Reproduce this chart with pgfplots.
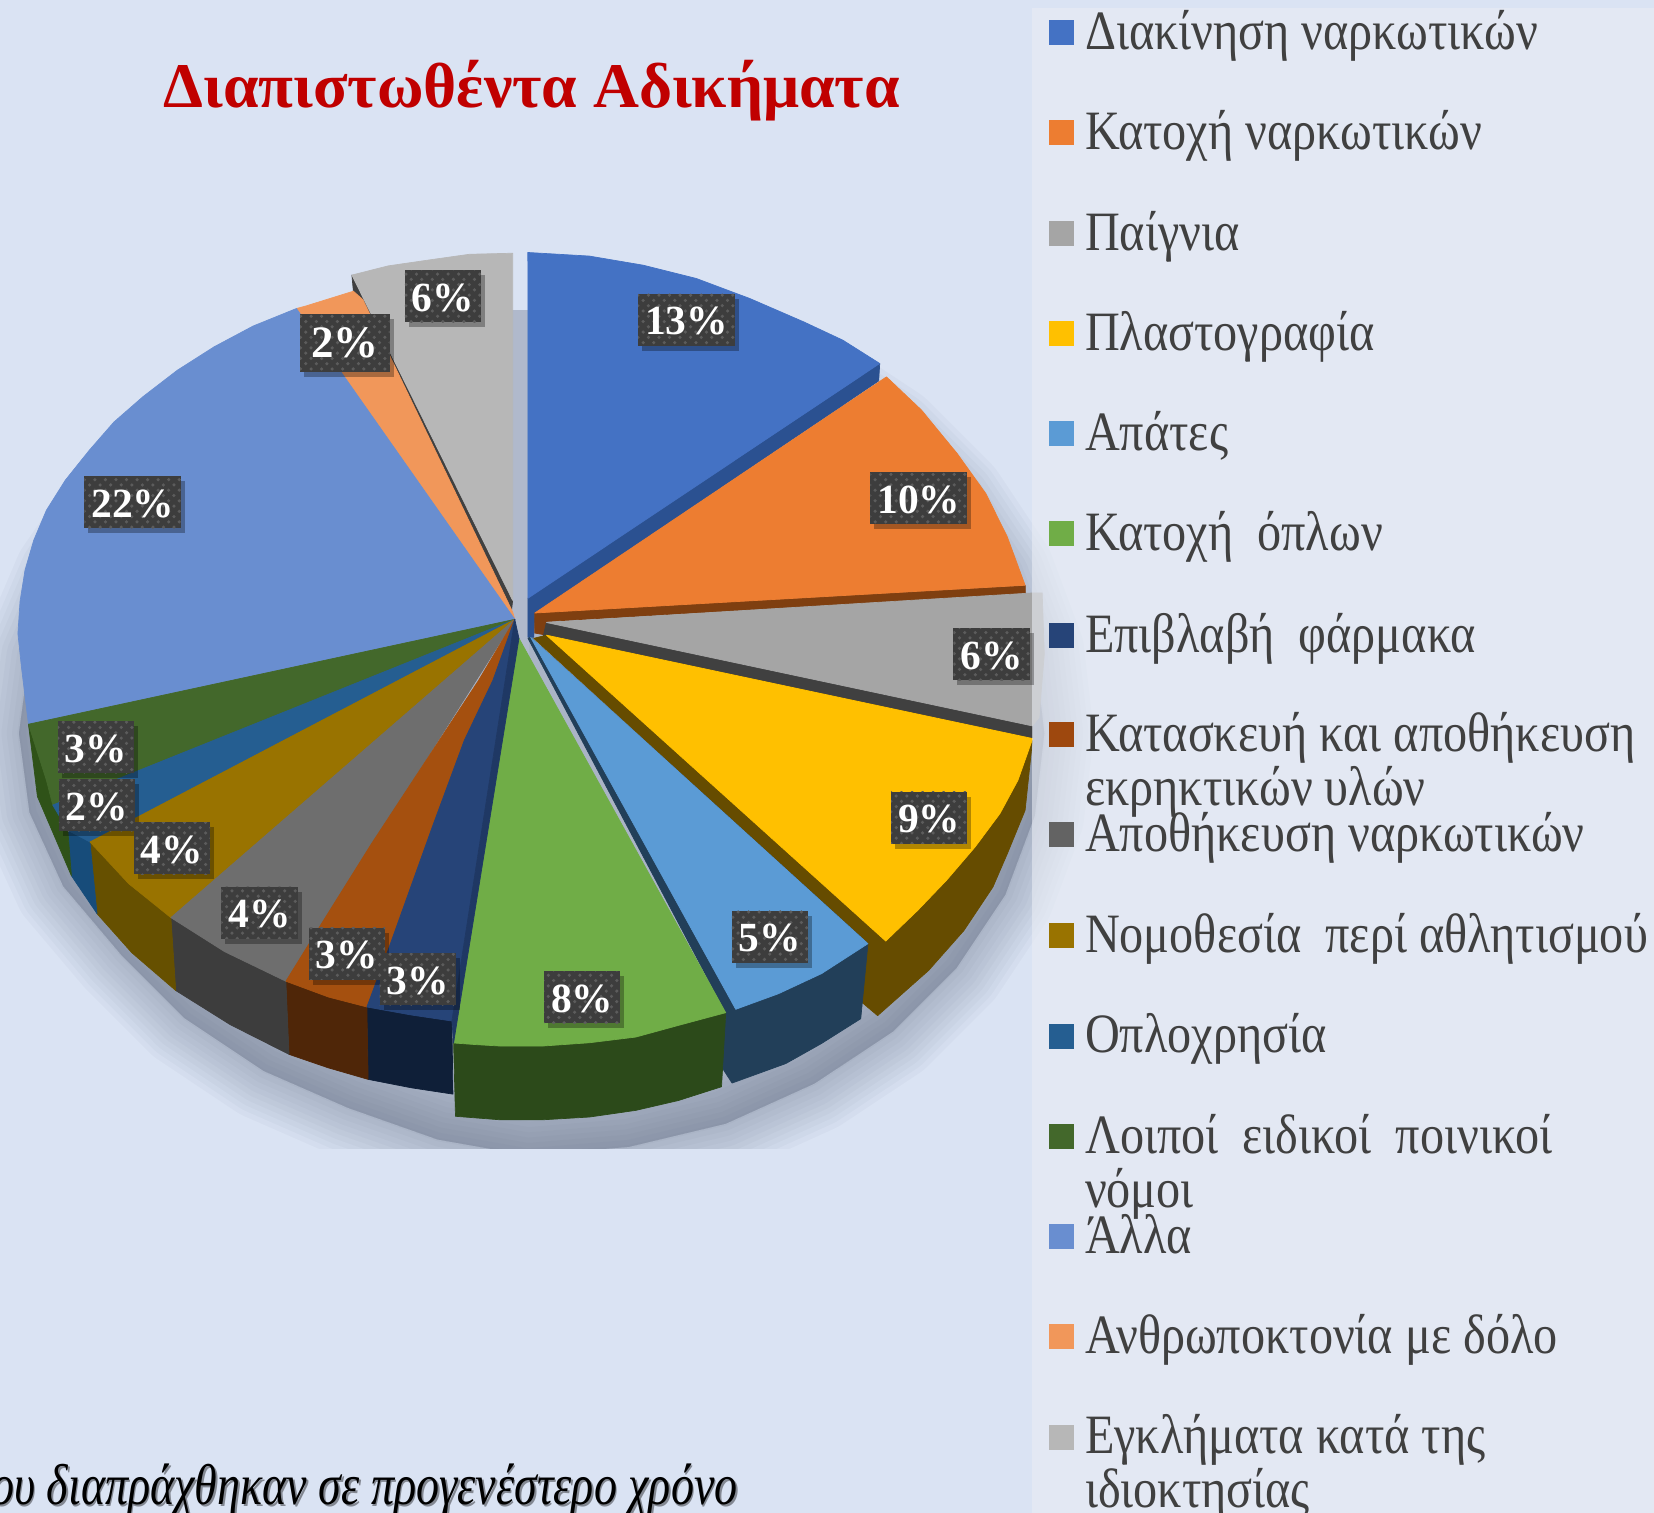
\documentclass[border=0pt]{standalone}
\usepackage{fontspec}
\setmainfont{Liberation Serif}
\newfontfamily\legfont[FakeStretch=0.868]{Liberation Serif}
\newfontfamily\notefont[FakeStretch=0.8]{Liberation Serif}
\usepackage{pgfplots}
\pgfplotsset{compat=1.18}
\usetikzlibrary{shadows,patterns}

\definecolor{bgc}{HTML}{DAE3F3}
\definecolor{panelc}{HTML}{E9ECF3}
\definecolor{shc}{HTML}{5F6A80}
\definecolor{gapc}{HTML}{B0B9CC}
\definecolor{txtc}{HTML}{404040}
\definecolor{boxc}{HTML}{3D3D3D}
\definecolor{boxd}{HTML}{5C5C5C}
% slice colours are named by their hex value
\newcommand\hexc[1]{\definecolor{#1}{HTML}{#1}}
\hexc{B7B7B7}\hexc{F1975A}\hexc{698ED0}\hexc{2B5191}\hexc{4472C4}\hexc{7F3F10}\hexc{ED7D31}
\hexc{404040}\hexc{A5A5A5}\hexc{664C00}\hexc{FFC000}\hexc{223F59}\hexc{5B9BD5}\hexc{2C4A1A}
\hexc{70AD47}\hexc{0F1F38}\hexc{4F2608}\hexc{3D3D3D}\hexc{665000}\hexc{174C7A}\hexc{2F5218}
\hexc{43682B}\hexc{255E91}\hexc{997300}\hexc{6E6E6E}\hexc{A5500F}\hexc{264478}\hexc{1F3864}
\hexc{9E480E}\hexc{636363}

% one filled polygon of the pie, in picture units
\newcommand\poly[2]{\addplot[forget plot, mark=none, fill=#1, draw=#1, line width=0.2pt, line join=round] coordinates {#2} --cycle;}
% legend entry: colour, y of the square, text
\newcommand\leg[3]{%
  \addplot[forget plot, only marks, mark=square*, mark size=3.35pt, color=#1] coordinates {(1006,#2)};
  \node[anchor=base west, inner sep=0pt, text=txtc, font=\fontsize{15.8}{18}\legfont] at (axis cs:1028,#2+16) {#3};}
\newcommand\legx[2]{\node[anchor=base west, inner sep=0pt, text=txtc, font=\fontsize{15.8}{18}\legfont] at (axis cs:1028,#1) {#2};}

\pgfplotstableread{
x y v
651 303 13
871 472 10
940 620 6
881 775 9
730 888 5
552 945 8
420 281 6
126 476 22
91 708 3
92 763 2
163 804 4
246 865 4
329 904 3
396 928 3
}\labels

\pgfplotsset{pct/.style={
  forget plot, mark=none, draw=none, point meta=explicit,
  nodes near coords={\pgfmathprintnumber[precision=0]{\pgfplotspointmeta}\%},
  nodes near coords align={center},
  nodes near coords style={anchor=center, fill=boxc, text=white,
    font=\fontsize{#1}{#1}\selectfont\bfseries,
    inner xsep=0.07cm, inner ysep=0pt, minimum height=0.52cm, text height=0.3cm, text depth=0pt,
    drop shadow={shadow xshift=0.04cm, shadow yshift=-0.05cm, opacity=0.3, fill=black},
    postaction={pattern=crosshatch dots, pattern color=boxd}},
}}

\begin{document}
\begin{tikzpicture}
\clip (0,0) rectangle (16.54,15.13);
\fill[bgc] (0,0) rectangle (16.54,15.13);
\begin{axis}[
  at={(0,0)}, anchor=south west,
  scale only axis, width=16.54cm, height=15.13cm,
  xmin=0, xmax=1568, ymin=0, ymax=1434, y dir=reverse,
  hide axis, clip=false,
  /pgf/number format/assume math mode=true,
]
% soft shadow under the pie
\def\shadowpts{(990,695)(981,617)(953,542)(907,473)(846,412)(772,363)(688,345)(596,345)(500,345)(404,345)(312,345)(228,375)(160,420)(105,480)(60,545)(28,620)(18,695)(28,770)(60,840)(115,905)(175,965)(250,1015)(330,1050)(415,1080)(500,1095)(596,1087)(688,1065)(772,1027)(846,978)(907,917)(953,848)(981,773)}
\pgfplotsinvokeforeach{28,25,22,19,16,13,10,7,4,1}{
  \addplot[forget plot, mark=none, fill=shc, draw=shc, opacity=0.045, line width=#1pt, line join=round] coordinates {\shadowpts} --cycle;
}
\addplot[forget plot, mark=none, draw=none, fill=bgc] coordinates {(-5,1089)(978,1089)(978,1440)(-5,1440)} --cycle;
% shadow seen through the gap between the first and the last slice
\poly{gapc}{(485,294)(501,294)(501,640)(485,640)}

% Εγκλήματα κατά της ιδιοκτησίας
\poly{404040}{(333.6,260.7)(335,276)(485,578)(486,569)}
\poly{B7B7B7}{(486,240)(445,241)(406,246.5)(368,252)(333.6,260.7)(486,569)}
% Ανθρωποκτονία
\poly{F1975A}{(281,292.4)(290,290)(335,276)(344,284)(486,580)(488,587)}
% Άλλα
\poly{698ED0}{(488,587)(281,292.4)(240,309)(203,328.7)(168,351)(135.5,376)(108,400)(84.7,426.7)(62,455)(44,483.6)(32,512)(23.7,540.5)(19,570)(17,600.5)(20.3,632)(27,686.4)}

% Διακίνηση
\poly{2B5191}{(500.5,567)(834,344.5)(833,361)(507,581)(506,604)(500.5,604)}
\poly{4472C4}{(500.4,239.3)(558.7,242.7)(609.5,251.3)(660.3,264)(711,283)(761.8,305)(799,322.4)(834,344.5)(500.5,567)}
% Κατοχή
\poly{7F3F10}{(507,581)(972,555)(972,563)(518,589)(518,602)(507,600)}
\poly{ED7D31}{(507,581)(840.4,357.2)(873.6,388.7)(907.5,430)(934.6,467.8)(954.9,508.8)(971.8,554.7)}
% Παίγνια
\poly{404040}{(518,590)(978.6,688)(978.6,700)(515,603)}
\poly{A5A5A5}{(518,590)(978.6,562)(988,562)(990,620)(985,680)(978.6,688)}
% Πλαστογραφία
\poly{664C00}{(506,605)(518,602)(979,700)(971.8,768)(955,809)(941.3,840.7)(914,881.7)(880.4,919.7)(832,962.6)(816.7,949.7)(822.8,894.4)}
\poly{FFC000}{(518,602)(979,700)(965,739.5)(948,771)(924.4,802.7)(897.3,834.3)(870,862.8)(839.7,891.9)}
% Απάτες
\poly{223F59}{(500.5,605)(503,604)(822.8,894.4)(816,965.5)(778.8,989)(745,1008)(694,1026.5)(684.6,1012)(688,959.8)}
\poly{5B9BD5}{(503,604)(822.8,894.4)(778.8,922.8)(738,941.8)(697.5,956.6)}
% Κατοχή όπλων
\poly{2C4A1A}{(688,959.8)(684,1030)(643.3,1043)(602.7,1052.4)(558.7,1058.7)(514.6,1061.3)(474,1061.3)(431.8,1058)(430,988.5)}
\poly{70AD47}{(492,605)(688,959.8)(643.3,971.8)(602.7,982.9)(558.7,988.3)(514.6,991.4)(474,991.4)(450.4,990)(430,988.5)}

% side faces of the left part
\poly{0F1F38}{(347.8,954.4)(349,1023)(390,1031)(429.4,1037)(428.4,967.7)(390,962)}
\poly{4F2608}{(271,930)(274,999.3)(311,1012)(349,1023)(347.8,954.4)(311.5,945)}
\poly{3D3D3D}{(162,869.7)(166.6,938.8)(218,971)(274,999.3)(271,930)(213,902)}
\poly{665000}{(85.3,798)(92,866)(125,903)(166.6,938.8)(162,869.7)(122,837.5)}
\poly{174C7A}{(64.3,787)(67.7,830)(92,866)(85.3,798)}
\poly{2F5218}{(27,686.4)(35.5,755)(67.7,830)(64.3,787)(44,739.5)}
% top faces of the left part
\poly{43682B}{(488,587)(27,686.4)(44,739.5)(50,763)}
\poly{255E91}{(488,587)(50,763)(64.3,787)(85.3,798)}
\poly{997300}{(488,587)(85.3,798)(122,837.5)(162,869.7)}
\poly{6E6E6E}{(488,587)(162,869.7)(213,902)(271,930)}
\poly{A5500F}{(488,587)(453.8,644.7)(352.2,799.6)(304.8,875.4)(271,930)(311.5,945)(347.8,954.4)(369,897.5)(409.8,783.8)(440.2,701.6)(467.3,644.7)}
\poly{264478}{(488,587)(467.3,644.7)(440.2,701.6)(409.8,783.8)(369,897.5)(347.8,954.4)(390,962)(428.4,967.7)}
\poly{1F3864}{(488,587)(492,605)(430,988.5)(428.4,967.7)}

% legend panel, a little transparent
\addplot[forget plot, mark=none, draw=none, fill=panelc, fill opacity=0.6] coordinates {(978,8)(1570,8)(1570,1436)(978,1436)} --cycle;

% data labels
\addplot[pct=11.8] table[x=x, y=y, meta=v] {\labels};
\addplot[pct=12.8, nodes near coords style={inner xsep=0.11cm, minimum height=0.58cm}] table[x=x, y=y, meta=v] {
x y v
327 325 2
};

% legend
\leg{4472C4}{31}{Διακίνηση ναρκωτικών}
\leg{ED7D31}{126}{Κατοχή ναρκωτικών}
\leg{A5A5A5}{221}{Παίγνια}
\leg{FFC000}{316}{Πλαστογραφία}
\leg{5B9BD5}{411}{Απάτες}
\leg{70AD47}{506}{Κατοχή\ \ όπλων}
\leg{264478}{602}{Επιβλαβή\ \ φάρμακα}
\leg{9E480E}{696}{Κατασκευή και αποθήκευση}
\legx{763}{εκρηκτικών υλών}
\leg{636363}{791}{Αποθήκευση ναρκωτικών}
\leg{997300}{887}{Νομοθεσία\ \ περί αθλητισμού}
\leg{255E91}{982}{Οπλοχρησία}
\leg{43682B}{1077}{Λοιποί\ \ ειδικοί\ \ ποινικοί}
\legx{1144}{νόμοι}
\leg{698ED0}{1172}{Άλλα}
\leg{F1975A}{1267}{Ανθρωποκτονία με δόλο}
\leg{B7B7B7}{1362}{Εγκλήματα κατά της}
\legx{1429}{ιδιοκτησίας}

% title and note
\node[anchor=base, inner sep=0pt, text={rgb,255:red,192;green,0;blue,0}, font=\fontsize{18.1}{20}\selectfont\bfseries] at (axis cs:504,102) {Διαπιστωθέντα Αδικήματα};
\node[anchor=base east, inner sep=0pt, text=black!40!bgc, font=\fontsize{16.4}{18}\notefont\itshape] at (axis cs:701.5,1427.5) {του διαπράχθηκαν σε προγενέστερο χρόνο};
\node[anchor=base east, inner sep=0pt, text=black, font=\fontsize{16.4}{18}\notefont\itshape] at (axis cs:700,1426) {του διαπράχθηκαν σε προγενέστερο χρόνο};
\end{axis}
\end{tikzpicture}
\end{document}
